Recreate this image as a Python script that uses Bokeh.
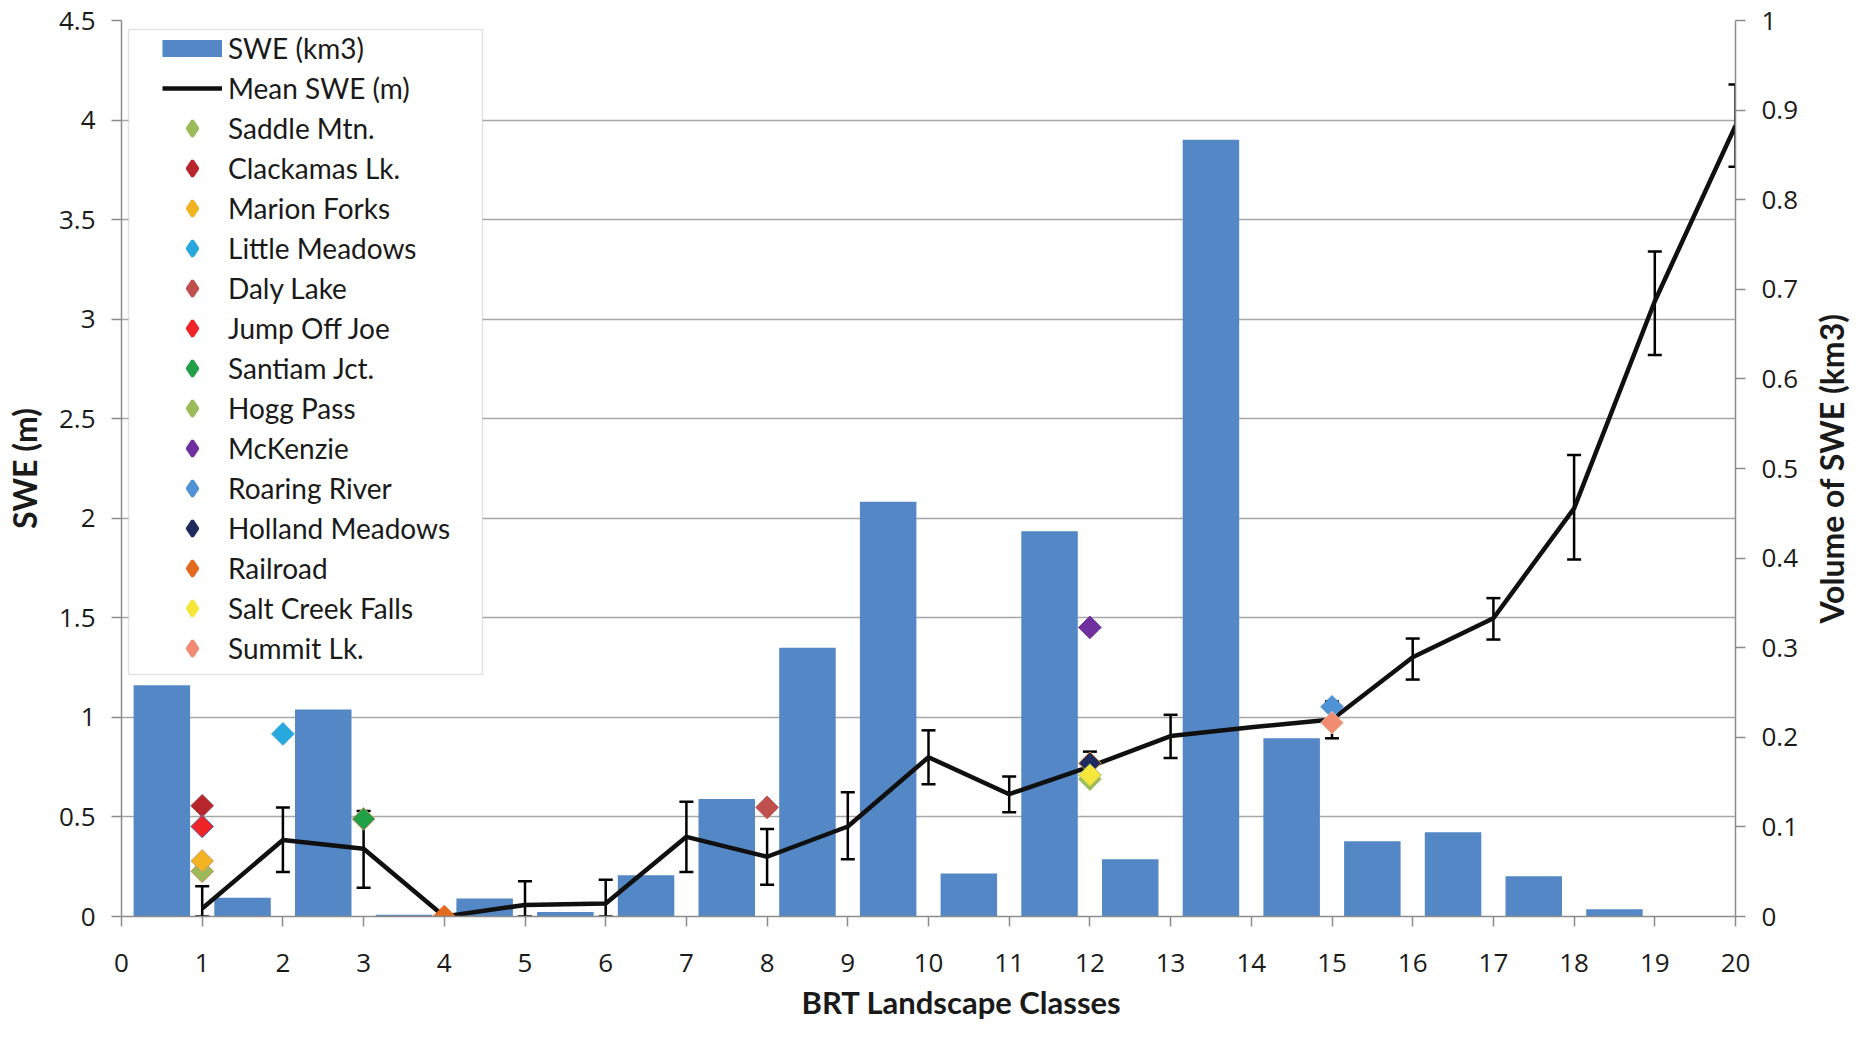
import numpy as np
from bokeh.plotting import figure
from bokeh.layouts import row
from bokeh.models import (ColumnDataSource, LinearAxis, Range1d, FixedTicker, Whisker,
                          TeeHead, Legend, LegendItem, BoxAnnotation, Title)
from bokeh.transform import dodge
from bokeh.embed import file_html
from bokeh.resources import INLINE

# ---------------- data ----------------
classes = [1, 2, 3, 4, 5, 6, 7, 8, 9, 10, 11, 12, 13, 14, 15, 16, 17, 18, 19, 20]
swe_volume_km3 = [0.258, 0.021, 0.231, 0.002, 0.020, 0.005, 0.046, 0.131, 0.300, 0.463,
                  0.048, 0.430, 0.064, 0.867, 0.199, 0.084, 0.094, 0.045, 0.008, 0.0]
mean_swe_m = [0.04, 0.384, 0.34, 0.0, 0.058, 0.065, 0.40, 0.30, 0.452, 0.80,
              0.614, 0.753, 0.906, 0.95, 0.989, 1.302, 1.498, 2.05, 3.09, 3.972]

err_classes = [1, 2, 3, 5, 6, 7, 8, 9, 10, 11, 12, 13, 15, 16, 17, 18, 19, 20]
err_upper = [0.152, 0.548, 0.53, 0.177, 0.184, 0.576, 0.439, 0.624, 0.935, 0.703,
             0.828, 1.013, 1.08, 1.396, 1.599, 2.318, 3.34, 4.178]
err_lower = [0.0, 0.224, 0.145, 0.0, 0.0, 0.224, 0.159, 0.287, 0.664, 0.523,
             0.678, 0.796, 0.895, 1.19, 1.391, 1.793, 2.82, 3.765]

site_names = ["Saddle Mtn.", "Clackamas Lk.", "Marion Forks", "Little Meadows", "Daly Lake",
              "Jump Off Joe", "Santiam Jct.", "Hogg Pass", "McKenzie", "Roaring River",
              "Holland Meadows", "Railroad", "Salt Creek Falls", "Summit Lk."]
site_classes = [1, 1, 1, 2, 8, 1, 3, 12, 12, 15, 12, 4, 12, 15]
site_swe = [0.227, 0.556, 0.279, 0.917, 0.548, 0.452, 0.49, 0.69, 1.452, 1.053,
            0.77, 0.0, 0.71, 0.973]
site_fill = ["#9BBB59", "#B8262B", "#F2B322", "#29A8DE", "#C0504D", "#EE2428", "#21A048",
             "#9BBB59", "#7030A0", "#4F93D6", "#1F2A5E", "#E26B20", "#F4E63A", "#F18B72"]
site_line = ["#D08A55", "#A0484A", "#C8A070", "#29A8DE", "#C0504D", "#5A6AB0", "#D0905A",
             "#9BBB59", "#7030A0", "#4F93D6", "#E0903A", "#E26B20", "#A8C060", "#E8C8A0"]

x_ticks = [0, 1, 2, 3, 4, 5, 6, 7, 8, 9, 10, 11, 12, 13, 14, 15, 16, 17, 18, 19, 20]
left_ticks = [0, 0.5, 1, 1.5, 2, 2.5, 3, 3.5, 4, 4.5]
left_tick_labels = ["0", "0.5", "1", "1.5", "2", "2.5", "3", "3.5", "4", "4.5"]
right_ticks = [0, 0.1, 0.2, 0.3, 0.4, 0.5, 0.6, 0.7, 0.8, 0.9, 1]
right_tick_labels = ["0", "0.1", "0.2", "0.3", "0.4", "0.5", "0.6", "0.7", "0.8", "0.9", "1"]

x_title = "BRT Landscape Classes"
y_title = "SWE (m)"
y2_title = "Volume of SWE (km3)"

BLUE = "#5387C6"
GRID = "#A6A6A6"
AXIS = "#8C8C8C"
TXT = "#1a1a1a"
FONT = "Lato"
TICK_FONT = "Open Sans"

# ---------------- main figure ----------------
p = figure(width=1809, height=1026, x_range=Range1d(0, 20), y_range=Range1d(0, 4.5),
           output_backend="svg", toolbar_location=None,
           min_border_left=121, min_border_right=74, min_border_top=20, min_border_bottom=109)
p.extra_y_ranges = {"vol": Range1d(0, 1)}
p.outline_line_color = None
p.background_fill_color = "white"

# grid
p.xgrid.visible = False
p.ygrid.ticker = FixedTicker(ticks=left_ticks)
p.ygrid.grid_line_color = GRID
p.ygrid.grid_line_width = 1.5

# bars (volume, right axis)
bar_src = ColumnDataSource(dict(cls=classes, vol=swe_volume_km3))
p.vbar(x=dodge("cls", -0.5), top="vol", width=0.7, source=bar_src, y_range_name="vol",
       fill_color=BLUE, line_color=None)
bar_legend_r = p.line(x="cls", y="vol", source=bar_src, y_range_name="vol",
                      line_color=BLUE, line_width=17, visible=False)

# error bars
err_src = ColumnDataSource(dict(cls=err_classes, upper=err_upper, lower=err_lower))
p.add_layout(Whisker(base="cls", upper="upper", lower="lower", source=err_src,
                     line_color="black", line_width=2.5,
                     upper_head=TeeHead(size=14, line_color="black", line_width=2.5),
                     lower_head=TeeHead(size=14, line_color="black", line_width=2.5)))

# mean line
line_src = ColumnDataSource(dict(cls=classes, swe=mean_swe_m))
line_r = p.line(x="cls", y="swe", source=line_src, line_color="#101010", line_width=4.5,
                line_join="round")

# site diamonds (rotated squares on the plot, diamond glyphs for the legend)
legend_site_renderers = []
for i, name in enumerate(site_names):
    src = ColumnDataSource(dict(cls=[site_classes[i]], swe=[site_swe[i]]))
    p.scatter(x="cls", y="swe", source=src, marker="square", angle=np.pi / 4, size=16,
              fill_color=site_fill[i], line_color=site_line[i], line_width=1)
    lr = p.scatter(x="cls", y="swe", source=src, marker="diamond", size=16,
                   fill_color=site_fill[i], line_color=site_fill[i], line_width=3,
                   visible=False)
    legend_site_renderers.append(lr)

# axes
xa = p.xaxis[0]
xa.ticker = FixedTicker(ticks=x_ticks)
ya = p.yaxis[0]
ya.ticker = FixedTicker(ticks=left_ticks)
ya.major_label_overrides = {t: l for t, l in zip(left_ticks, left_tick_labels)}
ra = LinearAxis(y_range_name="vol", ticker=FixedTicker(ticks=right_ticks))
ra.major_label_overrides = {t: l for t, l in zip(right_ticks, right_tick_labels)}
p.add_layout(ra, "right")

for ax in (xa, ya, ra):
    ax.axis_line_color = AXIS
    ax.axis_line_width = 1.5
    ax.major_tick_line_color = AXIS
    ax.major_tick_line_width = 1.5
    ax.major_tick_in = 0
    ax.major_tick_out = 10
    ax.minor_tick_line_color = None
    ax.major_label_text_font = TICK_FONT
    ax.major_label_text_font_size = "26px"
    ax.major_label_text_color = TXT
    ax.major_label_standoff = 16
    ax.axis_label_text_font = FONT
    ax.axis_label_text_font_size = "32px"
    ax.axis_label_text_font_style = "bold"
    ax.axis_label_text_color = TXT

xa.major_label_standoff = 27
ya.axis_label = y_title
ya.axis_label_standoff = 12

# x axis title, shifted right like the reference
p.add_layout(Title(text=x_title, align="left", offset=680, standoff=12, text_font=FONT,
                   text_font_size="31px", text_font_style="bold", text_color=TXT), "below")

# legend box and legend
p.add_layout(BoxAnnotation(left=128, right=482, top=29, bottom=674,
                           left_units="canvas", right_units="canvas",
                           top_units="canvas", bottom_units="canvas",
                           fill_color="white", fill_alpha=1.0,
                           line_color="#A0A0A0", line_width=1.5))

items = [LegendItem(label="SWE (km3)", renderers=[bar_legend_r]),
         LegendItem(label="Mean SWE (m)", renderers=[line_r])]
for name, r in zip(site_names, legend_site_renderers):
    items.append(LegendItem(label=name, renderers=[r]))

legend = Legend(items=items, location=(41, 248), orientation="vertical", padding=0,
                spacing=0, margin=0, glyph_width=60, glyph_height=40, label_height=40,
                label_standoff=6, border_line_color=None, background_fill_alpha=0,
                label_text_font=FONT, label_text_font_size="28px", label_text_color=TXT,
                click_policy="none")
p.add_layout(legend)

# ---------------- narrow strip carrying the right-hand axis title ----------------
p2 = figure(width=41, height=1026, output_backend="svg", toolbar_location=None,
            x_axis_location=None, y_axis_location=None,
            min_border_left=0, min_border_right=0, min_border_top=20, min_border_bottom=109)
p2.grid.visible = False
p2.outline_line_color = None
p2.add_layout(Title(text=y2_title, align="center", standoff=0, text_font=FONT,
                    text_font_size="32px", text_font_style="bold", text_color=TXT), "left")

layout = row(p, p2, spacing=0)
open("out.html", "w").write(file_html(layout, INLINE))
